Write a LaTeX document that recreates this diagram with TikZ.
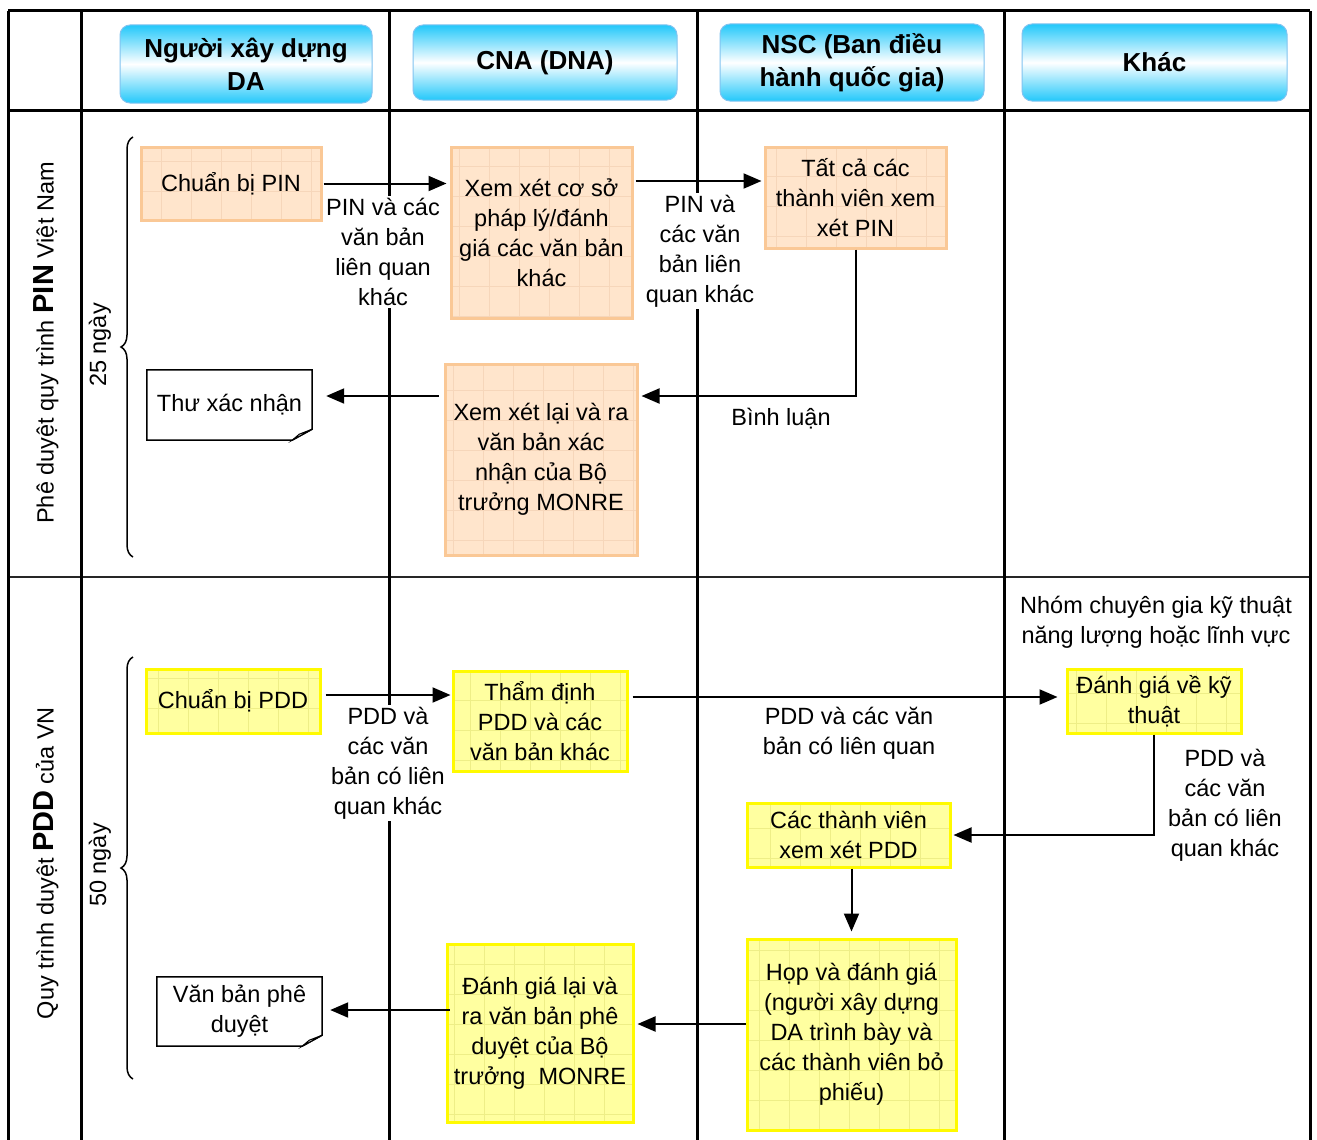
\documentclass[tikz,border=0pt]{standalone}
\usepackage{fontspec}
\setmainfont{Liberation Sans}
\usetikzlibrary{arrows.meta,decorations.pathreplacing,calc}
\definecolor{hcyan}{RGB}{35,200,250}
\definecolor{hborder}{RGB}{130,195,240}
\definecolor{ofill}{RGB}{255,229,204}
\definecolor{oborder}{RGB}{250,200,150}
\definecolor{ogrid}{RGB}{246,214,186}
\definecolor{yfill}{RGB}{255,255,160}
\definecolor{yborder}{RGB}{255,250,0}
\definecolor{ygrid}{RGB}{238,238,135}
\begin{document}
\begin{tikzpicture}[x=1pt,y=-1pt,
  txt/.style={font=\fontsize{23.5}{30}\selectfont, align=center},
  headbox/.style={draw=hborder, line width=1pt, rounded corners=10pt,
     top color=hcyan, bottom color=hcyan, middle color=white,
     font=\bfseries\fontsize{26}{33}\selectfont, align=center, inner sep=0pt},
  gridded/.style={path picture={\draw[#1,line width=0.6pt] (path picture bounding box.south west) grid[step=30pt] (path picture bounding box.north east);}},
  obox/.style={txt, draw=oborder, line width=3pt, fill=ofill, gridded=ogrid, inner sep=0pt},
  ybox/.style={txt, draw=yborder, line width=3pt, fill=yfill, gridded=ygrid, inner sep=0pt},
  docbox/.style={txt, inner sep=0pt},
  docline/.style={line width=1.5pt},
  lab/.style={txt, fill=white, inner sep=2pt},
  lane/.style={line width=3pt},
  arr/.style={line width=2pt, -{Triangle[length=18pt,width=15pt]}},
  bracestyle/.style={line width=1.5pt, decorate, decoration={brace, amplitude=12pt}}
]
\useasboundingbox (0,0) rectangle (1317,1140);
\fill[white] (0,0) rectangle (1317,1140);

% grid of the swimlanes
\draw[line width=2pt, black!85] (8,577) -- (1310,577);
\draw[lane] (8,11) -- (1310,11);
\draw[lane] (8,110) -- (1310,110);
\foreach \xx in {8,81,389,697,1004,1310} \draw[lane] (\xx,11) -- (\xx,1140);

% headers
\node[headbox, minimum width=252pt, minimum height=78pt] (h1) at (246,64) {Người xây dựng\\DA};
\node[headbox, minimum width=264pt, minimum height=75pt] (h2) at (545,62.5) {CNA (DNA)};
\node[headbox, minimum width=264pt, minimum height=77pt] (h3) at (852,62.5) {NSC (Ban điều\\hành quốc gia)};
\node[headbox, minimum width=265pt, minimum height=77pt] (h4) at (1154.5,62.5) {Khác};

% row labels
\node[txt, rotate=90] (r1) at (46,343) {Phê duyệt quy trình {\bfseries\fontsize{29}{30}\selectfont PIN} Việt Nam};
\node[txt, rotate=90] (r2) at (46,863) {Quy trình duyệt {\bfseries\fontsize{29}{30}\selectfont PDD} của VN};
\node[lab, rotate=90] (t1) at (100,345) {25 ngày};
\node[lab, rotate=90] (t2) at (100,865) {50 ngày};
\draw[bracestyle] (133,557) -- (133,137);
\draw[bracestyle] (133,1079) -- (133,657);

% PIN boxes
\node[obox, minimum width=180pt, minimum height=73pt] (o1) at (231,183.5) {Chuẩn bị PIN};
\node[obox, minimum width=181pt, minimum height=171pt] (o2) at (541.5,232.5) {Xem xét cơ sở\\pháp lý/đánh\\giá các văn bản\\khác};
\node[obox, minimum width=181pt, minimum height=101pt] (o3) at (855.5,197.5) {Tất cả các\\thành viên xem\\xét PIN};
\node[obox, minimum width=192pt, minimum height=191pt] (o4) at (541,459.5) {Xem xét lại và ra\\văn bản xác\\nhận của Bộ\\trưởng MONRE};
\node[docbox, minimum width=165pt, minimum height=70pt] (d1) at (229.5,405) {};

% PDD boxes
\node[ybox, minimum width=174pt, minimum height=64pt] (y1) at (233,701) {Chuẩn bị PDD};
\node[ybox, minimum width=174pt, minimum height=100pt] (y2) at (540,721) {Thẩm định\\PDD và các\\văn bản khác};
\node[ybox, minimum width=174pt, minimum height=64pt] (y3) at (1154,701) {Đánh giá về kỹ\\thuật};
\node[ybox, minimum width=203pt, minimum height=64pt] (y4) at (848.5,835) {Các thành viên\\xem xét PDD};
\node[ybox, minimum width=209pt, minimum height=191pt] (y5) at (851.5,1034.5) {Họp và đánh giá\\(người xây dựng\\DA trình bày và\\các thành viên bỏ\\phiếu)};
\node[ybox, minimum width=186pt, minimum height=178pt] (y6) at (540,1033) {Đánh giá lại và\\ra văn bản phê\\duyệt của Bộ\\trưởng~ MONRE};
\node[docbox, minimum width=165pt, minimum height=69pt] (d2) at (239.5,1011.5) {};

% document outlines
\foreach \d in {d1,d2}{
  \draw[docline, fill=white] (\d.north west) -- (\d.north east) -- ([yshift=11pt]\d.south east) -- ([xshift=-20pt]\d.south east) -- (\d.south west) -- cycle;
  \filldraw[fill=gray!15, line width=1pt] ([yshift=11pt]\d.south east) -- ([xshift=-20pt]\d.south east) -- ([xshift=-13pt,yshift=6pt]\d.south east) -- cycle;
}
\node[docbox] (d1t) at (d1) {Thư xác nhận};
\node[docbox] (d2t) at (d2) {Văn bản phê\\duyệt};

% level coordinates
\coordinate (ya) at (0,181);
\coordinate (yb) at (0,396);
\coordinate (yc) at (0,695);
\coordinate (yd) at (0,697);
\coordinate (ye) at (0,1024);
\coordinate (yf) at (0,1010);

% connectors
\draw[arr, shorten <=1pt, shorten >=3pt] (o1.east) -- (o2.west |- o1.east);
\draw[arr, shorten <=2pt, shorten >=2pt] (o2.east |- ya) -- (o3.west |- ya);
\draw[arr, shorten >=3pt] (o3.south) |- (o4.east |- yb);
\draw[arr, shorten <=5pt, shorten >=14pt] (o4.west |- yb) -- (d1.east |- yb);
\draw[arr, shorten <=4pt, shorten >=1pt] (y1.east |- yc) -- (y2.west |- yc);
\draw[arr, shorten <=4pt, shorten >=8pt] (y2.east |- yd) -- (y3.west |- yd);
\draw[arr, shorten >=2pt] (y3.south) |- (y4.east);
\draw[arr, shorten >=6pt] (y5.north |- y4.south) -- (y5.north);
\draw[arr, shorten <=0pt, shorten >=3pt] (y5.west |- ye) -- (y6.east |- ye);
\draw[arr, shorten <=-4pt, shorten >=8pt] (y6.west |- yf) -- (d2.east |- yf);

% connector labels
\node[lab] (l1) at (383,252) {PIN và các\\văn bản\\liên quan\\khác};
\node[lab] (l2) at (700,251) {PIN và\\các văn\\bản liên\\quan khác};
\node[lab] (l3) at (781,419) {Bình luận};
\node[lab] (l4) at (388,763) {PDD và\\các văn\\bản có liên\\quan khác};
\node[lab] (l5) at (849,733) {PDD và các văn\\bản có liên quan};
\node[lab] (l6) at (1156,622) {Nhóm chuyên gia kỹ thuật\\năng lượng hoặc lĩnh vực};
\node[lab] (l7) at (1225,805) {PDD và\\các văn\\bản có liên\\quan khác};
\end{tikzpicture}
\end{document}
